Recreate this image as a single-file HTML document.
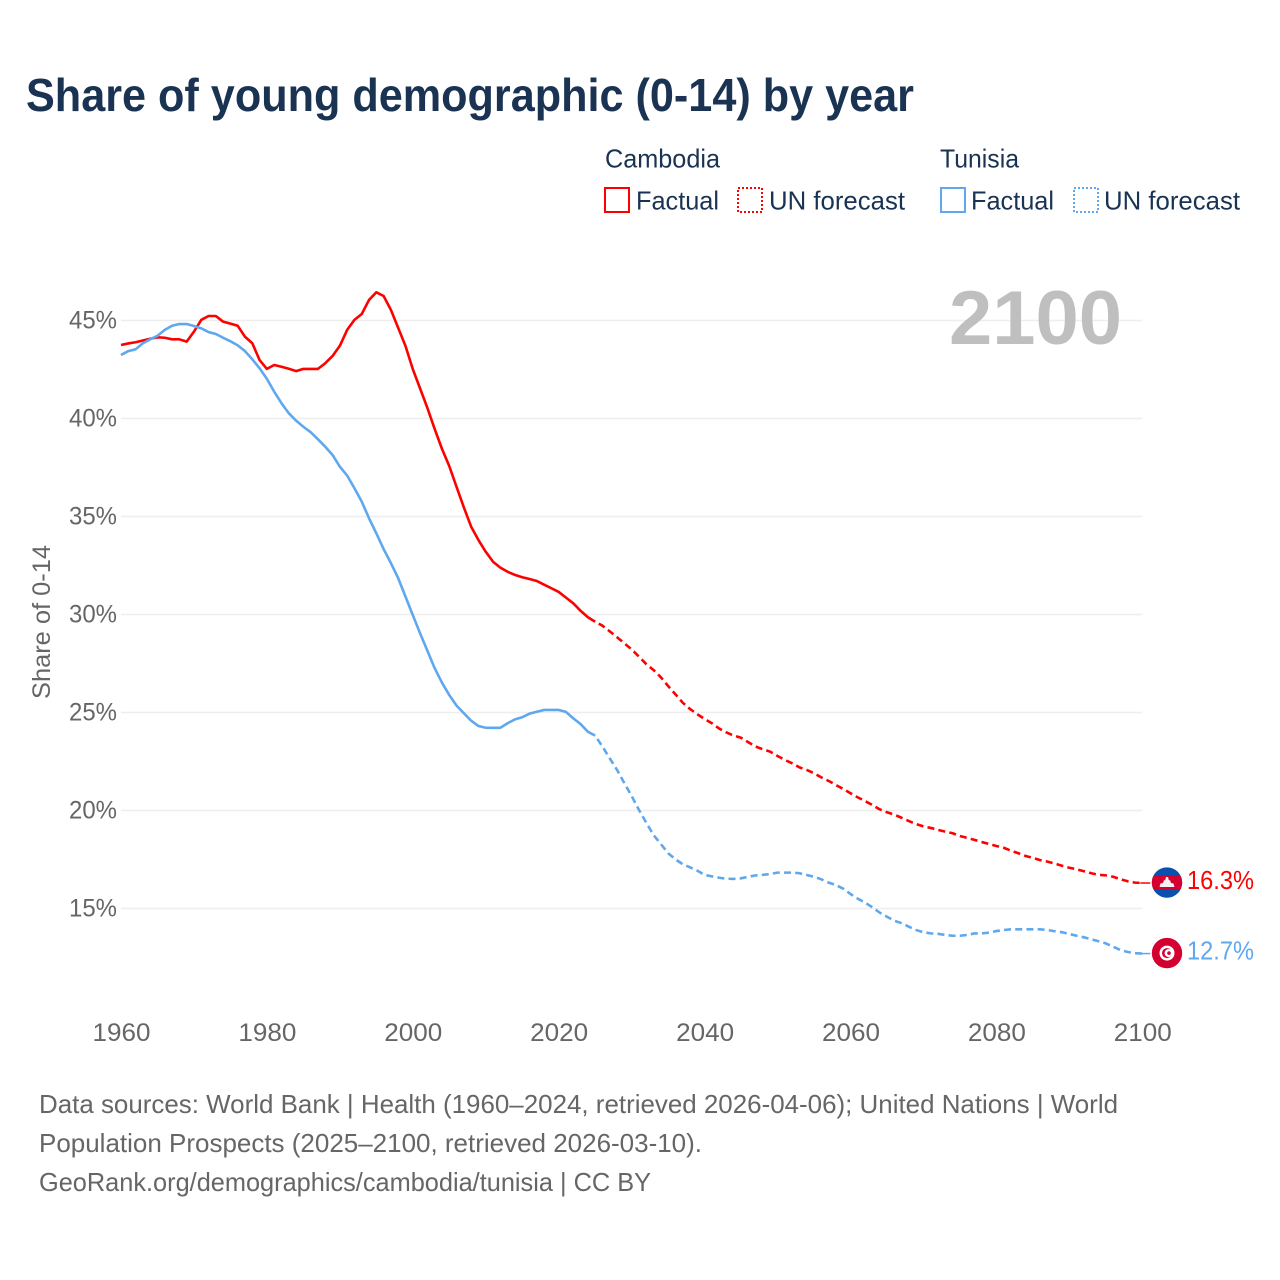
<!DOCTYPE html>
<html lang="en">
<head>
<meta charset="utf-8">
<title>Share of young demographic (0-14) by year</title>
<style>
html,body{margin:0;padding:0;background:#fff;}
svg{display:block;}
text{font-family:"Liberation Sans",sans-serif;}
</style>
</head>
<body>
<svg id="chart" xmlns="http://www.w3.org/2000/svg" width="1280" height="1280" viewBox="0 0 1280 1280">
  <rect x="0" y="0" width="1280" height="1280" fill="#ffffff"/>
  <text x="26" y="111" font-size="46" font-weight="700" fill="#1a3353" textLength="888" lengthAdjust="spacingAndGlyphs">Share of young demographic (0-14) by year</text>

  <g font-size="26" fill="#1a3353">
    <text x="605" y="167.5" textLength="115" lengthAdjust="spacingAndGlyphs">Cambodia</text>
    <rect x="605" y="188" width="24" height="24" fill="none" stroke="#ff0000" stroke-width="2"/>
    <text x="636" y="209.5" textLength="83" lengthAdjust="spacingAndGlyphs">Factual</text>
    <rect x="738" y="188" width="24" height="24" fill="none" stroke="#ff0000" stroke-width="2" stroke-dasharray="2 2"/>
    <text x="769" y="209.5" textLength="136" lengthAdjust="spacingAndGlyphs">UN forecast</text>

    <text x="940" y="167.5" textLength="79" lengthAdjust="spacingAndGlyphs">Tunisia</text>
    <rect x="941" y="188" width="24" height="24" fill="none" stroke="#5fa8ee" stroke-width="2"/>
    <text x="971" y="209.5" textLength="83" lengthAdjust="spacingAndGlyphs">Factual</text>
    <rect x="1074" y="188" width="24" height="24" fill="none" stroke="#5fa8ee" stroke-width="2" stroke-dasharray="2 2"/>
    <text x="1104" y="209.5" textLength="136" lengthAdjust="spacingAndGlyphs">UN forecast</text>
  </g>

  <g id="grid"></g>
  <text x="949" y="344" font-size="76" font-weight="700" fill="#bfbfbf" textLength="173" lengthAdjust="spacingAndGlyphs">2100</text>
  <g id="y-ticks" font-size="25" fill="#666666"></g>
  <g id="x-ticks" font-size="25" fill="#666666"></g>
  <text transform="translate(50,622) rotate(-90)" text-anchor="middle" font-size="25" fill="#666666" textLength="154" lengthAdjust="spacingAndGlyphs">Share of 0-14</text>

  <g id="series" fill="none" stroke-linejoin="round"></g>

  <defs>
    <clipPath id="flag-clip-cambodia"><circle cx="0" cy="0" r="15.2"/></clipPath>
    <clipPath id="flag-clip-tunisia"><circle cx="0" cy="0" r="15.2"/></clipPath>
  </defs>

  <g id="flag-cambodia" clip-path="url(#flag-clip-cambodia)">
    <rect x="-16" y="-16" width="32" height="32" fill="#0a50ad"/>
    <rect x="-16" y="-7" width="32" height="13.5" fill="#d4002f"/>
    <polygon points="-7.5,4.5 7.5,4.5 6.5,1 4,0.5 3.2,-2 1.8,-2.5 1,-5.5 -1,-5.5 -1.8,-2.5 -3.2,-2 -4,0.5 -6.5,1" fill="#f2f2f2"/>
  </g>
  <g id="flag-tunisia" clip-path="url(#flag-clip-tunisia)">
    <rect x="-16" y="-16" width="32" height="32" fill="#d4002f"/>
    <circle cx="0" cy="0" r="7.5" fill="#ffffff"/>
    <circle cx="0" cy="0" r="5" fill="#d4002f"/>
    <circle cx="1.6" cy="0" r="4" fill="#ffffff"/>
    <circle cx="2" cy="0" r="1.8" fill="#d4002f"/>
  </g>
  <text id="end-label-cambodia" x="1187" font-size="26" fill="#ff0000" textLength="67" lengthAdjust="spacingAndGlyphs"></text>
  <text id="end-label-tunisia" x="1187" font-size="26" fill="#5fa8ee" textLength="67" lengthAdjust="spacingAndGlyphs"></text>

  <g font-size="26" fill="#666666">
    <text x="39" y="1113" textLength="1079" lengthAdjust="spacingAndGlyphs">Data sources: World Bank | Health (1960–2024, retrieved 2026-04-06); United Nations | World</text>
    <text x="39" y="1152" textLength="663" lengthAdjust="spacingAndGlyphs">Population Prospects (2025–2100, retrieved 2026-03-10).</text>
    <text x="39" y="1191" textLength="612" lengthAdjust="spacingAndGlyphs">GeoRank.org/demographics/cambodia/tunisia | CC BY</text>
  </g>
</svg>
<script>
const firstYear = 1960;
const lastFactualYear = 2025;
const xTickLabels = [1960, 1980, 2000, 2020, 2040, 2060, 2080, 2100];
const yTickLabels = [15, 20, 25, 30, 35, 40, 45];
const cambodiaShare = [
43.75,43.83,43.89,43.98,44.07,44.14,44.12,44.04,44.04,43.92,
44.43,45.03,45.23,45.23,44.94,44.84,44.73,44.17,43.84,42.98,
42.53,42.73,42.64,42.54,42.42,42.53,42.53,42.53,42.82,43.19,
43.71,44.52,45.03,45.33,46.05,46.44,46.25,45.54,44.62,43.70,
42.52,41.53,40.54,39.46,38.45,37.57,36.51,35.46,34.48,33.80,
33.20,32.69,32.39,32.18,32.02,31.90,31.81,31.71,31.52,31.34,
31.15,30.86,30.57,30.19,29.86,29.63,29.43,29.14,28.84,28.53,
28.22,27.85,27.47,27.17,26.80,26.35,25.93,25.50,25.18,24.91,
24.67,24.45,24.18,23.98,23.82,23.71,23.48,23.26,23.12,23.00,
22.78,22.58,22.41,22.20,22.07,21.90,21.69,21.51,21.30,21.10,
20.88,20.67,20.48,20.28,20.06,19.91,19.79,19.63,19.46,19.31,
19.19,19.11,19.01,18.92,18.84,18.70,18.60,18.50,18.39,18.29,
18.19,18.10,17.95,17.82,17.68,17.58,17.47,17.39,17.29,17.18,
17.08,17.00,16.90,16.80,16.72,16.69,16.62,16.49,16.39,16.32,
16.30
];
const tunisiaShare = [
43.24,43.44,43.53,43.84,44.04,44.22,44.52,44.73,44.82,44.82,
44.72,44.60,44.41,44.31,44.12,43.94,43.73,43.44,43.02,42.56,
42.02,41.37,40.78,40.27,39.89,39.58,39.30,38.94,38.56,38.14,
37.54,37.09,36.44,35.76,34.91,34.14,33.34,32.62,31.85,30.91,
29.97,29.04,28.15,27.26,26.52,25.89,25.35,24.96,24.58,24.31,
24.22,24.22,24.22,24.45,24.65,24.76,24.94,25.04,25.13,25.13,
25.13,25.03,24.70,24.41,24.02,23.82,23.26,22.66,22.07,21.39,
20.74,20.03,19.38,18.75,18.29,17.82,17.51,17.26,17.10,16.93,
16.71,16.64,16.57,16.52,16.51,16.54,16.62,16.69,16.72,16.76,
16.83,16.83,16.83,16.80,16.71,16.62,16.49,16.32,16.20,16.01,
15.74,15.50,15.30,15.06,14.79,14.58,14.38,14.25,14.07,13.90,
13.79,13.73,13.71,13.65,13.61,13.61,13.65,13.73,13.73,13.77,
13.85,13.90,13.94,13.94,13.94,13.94,13.94,13.90,13.84,13.79,
13.70,13.61,13.53,13.43,13.33,13.22,13.05,12.88,12.78,12.72,
12.70
];

const SVG_NS = 'http://www.w3.org/2000/svg';
function xScale(year) { return 121 + (year - 1960) * 7.295; }
function yScale(share) { return 320.5 + (45 - share) * 19.6; }

function linePath(values, fromYear, toYear) {
  let d = '';
  for (let year = fromYear; year <= toYear; year++) {
    const share = values[year - firstYear];
    d += (d ? 'L' : 'M') + xScale(year).toFixed(2) + ' ' + yScale(share).toFixed(2);
  }
  return d;
}

const gridGroup = document.getElementById('grid');
const yTickGroup = document.getElementById('y-ticks');
yTickLabels.forEach(function (tick) {
  const line = document.createElementNS(SVG_NS, 'line');
  
  
  line.setAttribute('x1', xScale(firstYear));
  line.setAttribute('x2', xScale(2100));
  line.setAttribute('y1', yScale(tick));
  line.setAttribute('y2', yScale(tick));
  line.setAttribute('stroke', '#eeeeee');
  line.setAttribute('stroke-width', '1.6');
  gridGroup.appendChild(line);

  const label = document.createElementNS(SVG_NS, 'text');
  
  
  label.setAttribute('x', 69);
  label.setAttribute('y', yScale(tick) + 8);
  label.setAttribute('textLength', 48);
  label.setAttribute('lengthAdjust', 'spacingAndGlyphs');
  label.textContent = tick + '%';
  yTickGroup.appendChild(label);
});

const xTickGroup = document.getElementById('x-ticks');
xTickLabels.forEach(function (tick) {
  const label = document.createElementNS(SVG_NS, 'text');
  
  
  label.setAttribute('x', xScale(tick) - 28.5);
  label.setAttribute('y', 1041);
  label.setAttribute('textLength', 58);
  label.setAttribute('lengthAdjust', 'spacingAndGlyphs');
  label.textContent = String(tick);
  xTickGroup.appendChild(label);
});

const seriesGroup = document.getElementById('series');
function drawSeries(name, values, color) {
  const lastYear = firstYear + values.length - 1;

  const forecast = document.createElementNS(SVG_NS, 'path');
  
  
  forecast.setAttribute('d', linePath(values, lastFactualYear, lastYear));
  forecast.setAttribute('stroke', color);
  forecast.setAttribute('stroke-width', '2.6');
  forecast.setAttribute('stroke-dasharray', '7 4.2');
  forecast.setAttribute('stroke-dashoffset', '-4');
  seriesGroup.appendChild(forecast);

  const factual = document.createElementNS(SVG_NS, 'path');
  
  
  factual.setAttribute('d', linePath(values, firstYear, lastFactualYear));
  factual.setAttribute('stroke', color);
  factual.setAttribute('stroke-width', '2.6');
  seriesGroup.appendChild(factual);

  const endY = yScale(values[values.length - 1]);
  const leader = document.createElementNS(SVG_NS, 'line');
  
  
  leader.setAttribute('x1', xScale(lastYear) - 2);
  leader.setAttribute('x2', xScale(lastYear) + 8);
  leader.setAttribute('y1', endY);
  leader.setAttribute('y2', endY);
  leader.setAttribute('stroke', color);
  leader.setAttribute('stroke-width', '1.5');
  seriesGroup.appendChild(leader);

  document.getElementById('flag-' + name).setAttribute('transform', 'translate(1167,' + (endY - 0.5).toFixed(2) + ')');
  const endLabel = document.getElementById('end-label-' + name);
  endLabel.setAttribute('y', (endY + 6).toFixed(2));
  endLabel.textContent = values[values.length - 1].toFixed(1) + '%';
}
drawSeries('cambodia', cambodiaShare, '#ff0000');
drawSeries('tunisia', tunisiaShare, '#5fa8ee');
</script>
</body>
</html>
